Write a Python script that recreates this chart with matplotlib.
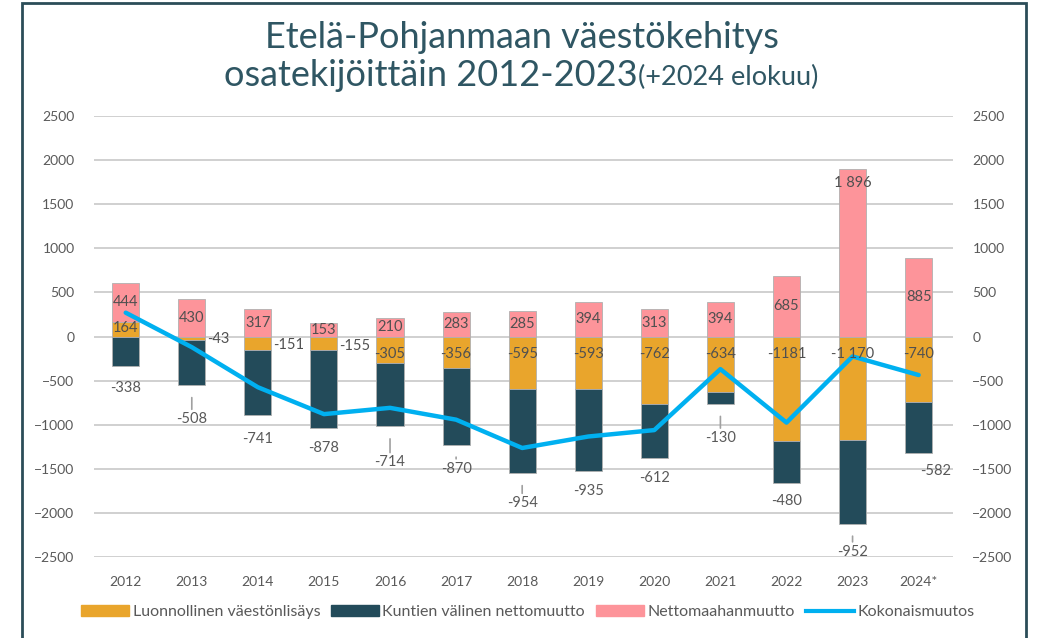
import numpy as np
import matplotlib.pyplot as plt
from matplotlib.patches import Rectangle, Patch
from matplotlib.lines import Line2D

plt.rcParams['font.family'] = ['Lato', 'DejaVu Sans']

# data
years = ['2012', '2013', '2014', '2015', '2016', '2017', '2018', '2019',
         '2020', '2021', '2022', '2023', '2024*']
luonnollinen = [164, -43, -151, -155, -305, -356, -595, -593, -762, -634, -1181, -1170, -740]
kuntien_valinen = [-338, -508, -741, -878, -714, -870, -954, -935, -612, -130, -480, -952, -582]
maahanmuutto = [444, 430, 317, 153, 210, 283, 285, 394, 313, 394, 685, 1896, 885]
kokonais = [270, -121, -575, -880, -809, -943, -1264, -1134, -1061, -370, -976, -226, -437]

luonnollinen_txt = ['164', '-43', '-151', '-155', '-305', '-356', '-595', '-593', '-762',
                    '-634', '-1181', '-1 170', '-740']
kuntien_txt = ['-338', '-508', '-741', '-878', '-714', '-870', '-954', '-935', '-612',
               '-130', '-480', '-952', '-582']
maahan_txt = ['444', '430', '317', '153', '210', '283', '285', '394', '313', '394', '685',
              '1 896', '885']

c_orange = '#E9A52C'
c_dark = '#234B5A'
c_pink = '#FD949A'
c_line = '#00B0F0'
c_text = '#595959'
c_title = '#2F5663'

fig = plt.figure(figsize=(10.43, 6.38), dpi=100)
ax = fig.add_axes([94 / 1043, 1 - 557 / 638, 859 / 1043, 441 / 638])

x = np.arange(len(years))
w = 0.41
luo = np.array(luonnollinen)
kun = np.array(kuntien_valinen)
maa = np.array(maahanmuutto)

# stacking: positive values up from 0, negatives down from 0
luo_bottom = np.zeros(len(x))
kun_bottom = np.where(luo < 0, luo, 0)
maa_bottom = np.where(luo > 0, luo, 0)

edge = dict(edgecolor='#b0b0b0', linewidth=0.6)
ax.bar(x, luo, w, bottom=luo_bottom, color=c_orange, zorder=2, **edge)
ax.bar(x, kun, w, bottom=kun_bottom, color=c_dark, zorder=2, **edge)
ax.bar(x, maa, w, bottom=maa_bottom, color=c_pink, zorder=2, **edge)
ax.plot(x, kokonais, color=c_line, linewidth=3.2, zorder=3, solid_capstyle='round')

ax.set_ylim(-2500, 2500)
ax.set_xlim(-0.48, 12.52)
ax.set_yticks(range(-2500, 2501, 500))
ax.grid(axis='y', color='#d0d0d0', linewidth=1.4, zorder=0)
ax.set_axisbelow(True)
for s in ax.spines.values():
    s.set_visible(False)
ax.set_xticks(x)
ax.set_xticklabels(years)
ax.tick_params(axis='both', length=0, labelsize=10, labelcolor=c_text)
ax.tick_params(axis='x', pad=14)
ax.tick_params(axis='y', pad=14)

ax2 = ax.twinx()
ax2.set_ylim(-2500, 2500)
ax2.set_yticks(range(-2500, 2501, 500))
for s in ax2.spines.values():
    s.set_visible(False)
ax2.tick_params(axis='y', length=0, labelsize=10, labelcolor=c_text, pad=14)

lab = dict(fontsize=10.5, color='#505050', ha='center', va='center', zorder=5)

# immigration labels (centered, 2023 near top)
for i in x:
    yb = maa_bottom[i]
    ypos = yb + maa[i] / 2 if i != 11 else yb + maa[i] - 150
    ax.text(i, ypos, maahan_txt[i], **lab)

# natural change labels
for i in x:
    if i == 0:
        ax.text(i, luo[i] / 2 + 20, luonnollinen_txt[i], **lab)
    elif i in (1, 2, 3):
        ax.text(i + 0.23, luo[i] / 2 - 25 if i > 1 else -30, luonnollinen_txt[i],
                fontsize=10.5, color='#505050', ha='left', va='center', zorder=5)
    else:
        ax.text(i, -200, luonnollinen_txt[i], **lab)

# inter-municipal migration labels below bars
offsets = [22, 34, 24, 20, 36, 24, 30, 20, 20, 34, 18, 28, 18]
leaders = [False, True, False, False, True, True, True, False, False, True, False, True, False]
xshift = [0, 0, 0, 0, 0, 0, 0, 0, 0, 0, 0, 0, 17]
for i in x:
    ybot = kun_bottom[i] + kun[i]
    ax.annotate(kuntien_txt[i], xy=(i, ybot), xytext=(xshift[i], -offsets[i]),
                textcoords='offset pixels', fontsize=10.5, color=c_text,
                ha='center', va='center', zorder=5,
                arrowprops=dict(arrowstyle='-', color='#a0a0a0', lw=1.2,
                                shrinkA=0, shrinkB=9) if leaders[i] else None)

# title
fig.text(0.5, 1 - 38 / 638, 'Etelä-Pohjanmaan väestökehitys', fontsize=26,
         color=c_title, ha='center', va='center')
t1 = fig.text(0.5, 1 - 76 / 638, 'osatekijöittäin 2012-2023', fontsize=26,
              color=c_title, ha='left', va='center')
t2 = fig.text(0.5, 1 - 77 / 638, '(+2024 elokuu)', fontsize=19.5,
              color=c_title, ha='left', va='center')
r = fig.canvas.get_renderer()
w1 = t1.get_window_extent(r).width
w2 = t2.get_window_extent(r).width
start = (1043 - w1 - w2) / 2
t1.set_x(start / 1043)
t2.set_x((start + w1) / 1043)

# legend
handles = [Patch(color=c_orange, label='Luonnollinen väestönlisäys'),
           Patch(color=c_dark, label='Kuntien välinen nettomuutto'),
           Patch(color=c_pink, label='Nettomaahanmuutto'),
           Line2D([], [], color=c_line, linewidth=3, label='Kokonaismuutos')]
fig.legend(handles=handles, loc='center', bbox_to_anchor=(0.506, 1 - 612 / 638), ncol=4,
           frameon=False, fontsize=11.5, labelcolor=c_text, handlelength=3.0,
           handleheight=0.75, handletextpad=0.2, columnspacing=0.7)

# outer frame
fig.patches.append(Rectangle((22 / 1043, -0.05), (1026 - 22) / 1043, 1.05 - 3 / 638,
                             transform=fig.transFigure, fill=False,
                             edgecolor='#2B4D58', linewidth=2))

plt.savefig('out.png', dpi=100)
